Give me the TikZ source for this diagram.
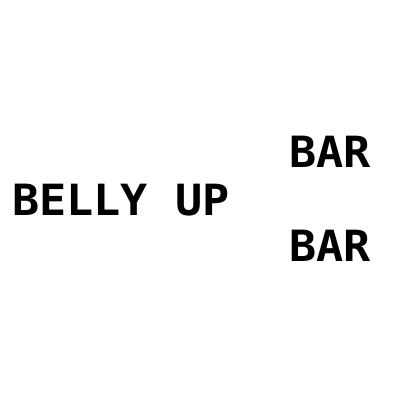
\documentclass[tikz,border=0pt]{standalone}
\usepackage{fontspec}
\setmonofont{DejaVu Sans Mono}
\usepackage{tikz}
\usetikzlibrary{positioning}

\tikzset{sign/.style={inner sep=0pt,anchor=base west,font=\fontsize{43}{43}\selectfont\ttfamily\bfseries}}
\newcommand{\wide}[1]{\scalebox{1.05}[1]{#1}}

\begin{document}
\begin{tikzpicture}[x=1pt,y=1pt]
\useasboundingbox[fill=white] (0,0) rectangle (400,400);
\node[sign] (belly) at (12,184) {\wide{BELLY UP}};
\node[sign] (bartop) at (289,232) {\wide{BAR}};
\node[sign] (barbot) at (289,138.5) {\wide{BAR}};
\end{tikzpicture}
\end{document}
